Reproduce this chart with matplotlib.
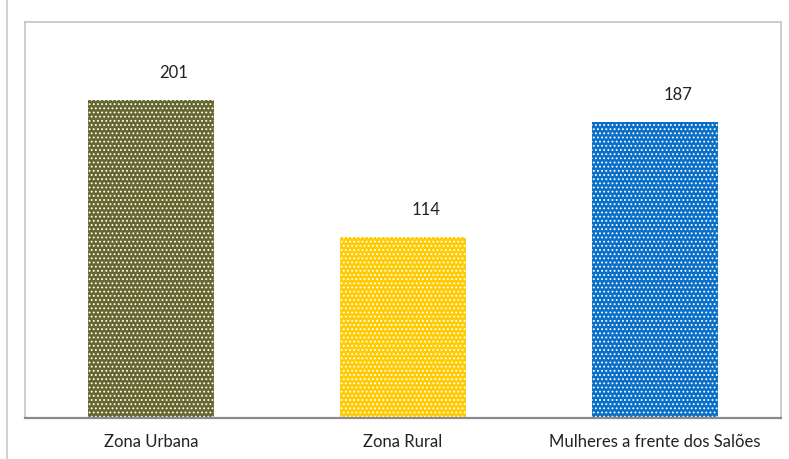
import matplotlib.pyplot as plt
from matplotlib.lines import Line2D

categorias = ['Zona Urbana', 'Zona Rural', 'Mulheres a frente dos Salões']
valores = [201, 114, 187]
cores = ['#66672f', '#ffcb05', '#0a6fc6']

plt.rcParams['font.family'] = ['Lato', 'DejaVu Sans']
plt.rcParams['hatch.linewidth'] = 0.8

fig = plt.figure(figsize=(7.89, 4.60), dpi=100)
ax = fig.add_axes([25 / 789, 1 - 419 / 460, 756 / 789, 396 / 460])

x = range(len(categorias))
barras = ax.bar(x, valores, width=0.5, color=cores, edgecolor='white',
                linewidth=0, hatch='....')

# rotulos de valor, um pouco deslocados para a direita
for xi, v in zip(x, valores):
    ax.annotate(str(v), (xi, v), xytext=(23, 28), textcoords='offset pixels',
                ha='center', va='center', fontsize=12, color='#222222')

ax.set_xlim(-0.5, 2.5)
ax.set_ylim(0, 250)
ax.set_xticks(list(x))
ax.set_xticklabels(categorias, fontsize=12, color='#222222')
ax.tick_params(axis='x', length=0, pad=11)
ax.set_yticks([])

for lado in ['top', 'left', 'right']:
    ax.spines[lado].set_color('#c4c4c4')
    ax.spines[lado].set_linewidth(1.2)
ax.spines['bottom'].set_color('#8a8a8a')
ax.spines['bottom'].set_linewidth(1.6)

# linha vertical externa a esquerda
fig.add_artist(Line2D([7 / 789, 7 / 789], [0, 1], color='#c8c8c8', lw=1.2))

fig.savefig('out.png', dpi=100)
